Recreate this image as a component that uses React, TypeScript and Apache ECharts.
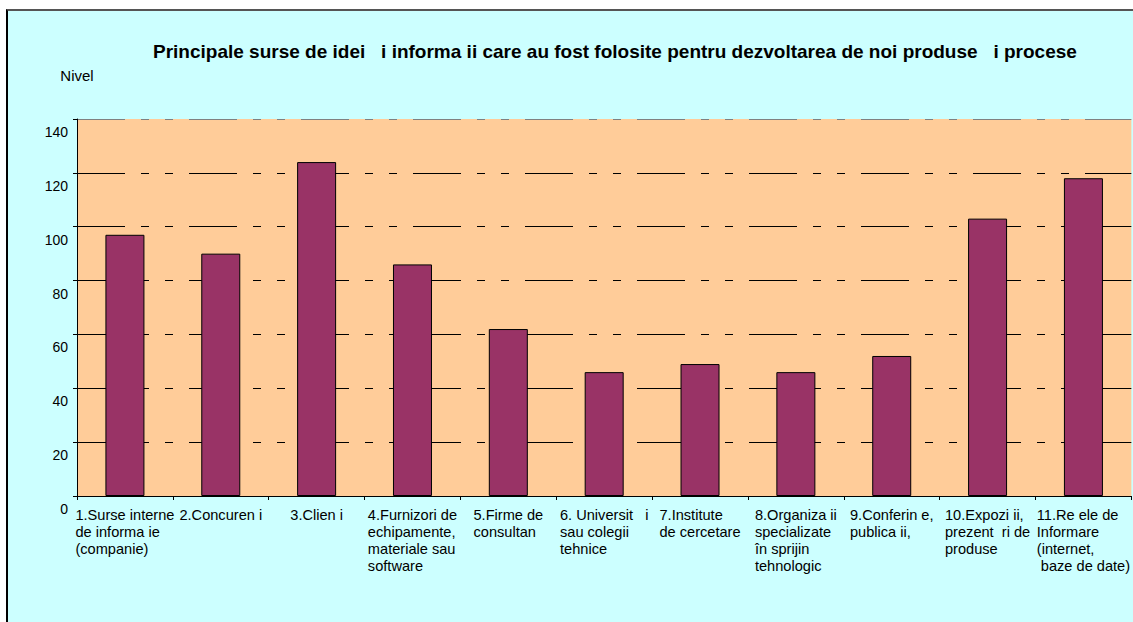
import React, { useEffect, useRef } from 'react';
import * as echarts from 'echarts';

const titleText =
  'Principale surse de idei   i informa ii care au fost folosite pentru dezvoltarea de noi produse   i procese';
const yAxisName = 'Nivel';

const categories = [
  '1.Surse interne\nde informa ie\n(companie)',
  '2.Concuren i',
  '3.Clien i',
  '4.Furnizori de\nechipamente,\nmateriale sau\nsoftware',
  '5.Firme de\nconsultan',
  '6. Universit   i\nsau colegii\ntehnice',
  '7.Institute\nde cercetare',
  '8.Organiza ii\nspecializate\nîn sprijin\ntehnologic',
  '9.Conferin e,\npublica ii,',
  '10.Expozi ii,\nprezent  ri de\nproduse',
  '11.Re ele de\nInformare\n(internet,\n baze de date)',
];

const values = [97, 90, 124, 86, 62, 46, 49, 46, 52, 103, 118];

const yMin = 0;
const yMax = 140;
const yInterval = 20;

const FONT = '"Liberation Sans", Arial, sans-serif';

export default function App() {
  const ref = useRef<HTMLDivElement>(null);

  useEffect(() => {
    if (!ref.current) return;
    const chart = echarts.init(ref.current, undefined, { renderer: 'svg' });
    const lineCount = (yMax - yMin) / yInterval + 1;
    const splitColors: string[] = [];
    for (let i = 0; i < lineCount; i++) splitColors.push(i === lineCount - 1 ? '#808080' : '#000000');

    chart.setOption({
      animation: false,
      backgroundColor: 'transparent',
      textStyle: { fontFamily: FONT },
      title: {
        text: titleText,
        left: 148,
        top: 37,
        textStyle: { fontFamily: FONT, fontSize: 19, fontWeight: 'bold', color: '#000' },
      },
      grid: {
        left: 77,
        right: 0,
        top: 119,
        bottom: 126,
        containLabel: false,
        show: true,
        backgroundColor: '#FFCC99',
        borderWidth: 0,
      },
      xAxis: {
        type: 'category',
        data: categories,
        boundaryGap: true,
        axisLine: { show: true, lineStyle: { color: '#000', width: 1 } },
        axisTick: { show: true, alignWithLabel: false, length: 4, lineStyle: { color: '#000' } },
        axisLabel: {
          interval: 0,
          hideOverlap: false,
          margin: 10,
          formatter: (v: string) =>
            v
              .split('\n')
              .map((l) => `{a|${l}}`)
              .join('\n'),
          rich: {
            a: { fontFamily: FONT, fontSize: 14.6, lineHeight: 17, color: '#000', align: 'left' },
          },
        },
        splitLine: { show: false },
      },
      yAxis: {
        type: 'value',
        min: yMin,
        max: yMax,
        interval: yInterval,
        name: yAxisName,
        nameLocation: 'end',
        nameGap: 44,
        nameTextStyle: {
          fontFamily: FONT,
          fontSize: 15,
          color: '#000',
          align: 'center',
          verticalAlign: 'middle',
        },
        axisLine: { show: true, lineStyle: { color: '#000', width: 1 } },
        axisTick: { show: true, length: 4, lineStyle: { color: '#000' } },
        axisLabel: {
          fontFamily: FONT,
          fontSize: 14,
          color: '#000',
          margin: 9,
          verticalAlign: 'top',
          lineHeight: 26,
        },
        splitLine: {
          show: true,
          lineStyle: { color: splitColors, width: 1, type: [48, 16, 8, 16, 8, 16] },
        },
      },
      series: [
        {
          type: 'bar',
          data: values,
          barWidth: 39,
          itemStyle: { color: '#993366', borderColor: '#000', borderWidth: 1 },
        },
      ],
    });
    return () => chart.dispose();
  }, []);

  return (
    <div style={{ position: 'absolute', left: 0, top: 0, width: 1133, height: 622, background: '#fff', overflow: 'hidden' }}>
      <div
        style={{
          position: 'absolute',
          left: 6,
          top: 9,
          width: 1127,
          height: 613,
          boxSizing: 'border-box',
          background: '#CCFFFF',
          borderLeft: '2px solid #000',
          borderTop: '2px solid #555',
        }}
      />
      <div ref={ref} style={{ position: 'absolute', left: 0, top: 0, width: 1133, height: 622 }} />
    </div>
  );
}
